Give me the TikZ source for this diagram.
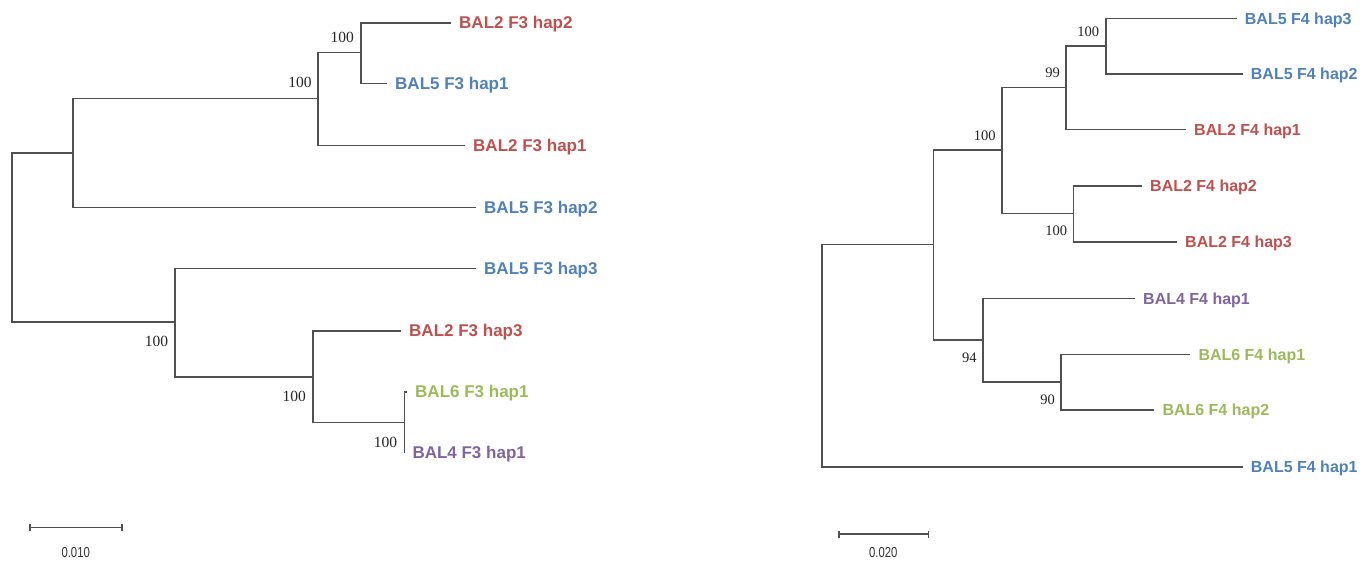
\documentclass[tikz,border=0pt]{standalone}
\usepackage{fontspec}
\setmainfont{Liberation Sans}
\newfontfamily\bootfont{Liberation Serif}
\newfontfamily\barfont[FakeStretch=0.78]{Liberation Sans}
\usetikzlibrary{calc,arrows.meta}
\definecolor{hapred}{RGB}{192,80,77}
\definecolor{hapblue}{RGB}{79,129,189}
\definecolor{hapgreen}{RGB}{155,187,89}
\definecolor{happurple}{RGB}{128,100,162}
\definecolor{branchgray}{RGB}{80,80,80}
\begin{document}
\begin{tikzpicture}[x=1pt,y=-1pt,
  branch/.style={draw=branchgray,line width=1.6pt},
  leafL/.style={anchor=west,inner xsep=8pt,inner ysep=0pt,text height=12.2pt,text depth=0pt,
    font=\fontsize{17}{17}\selectfont\bfseries},
  leafR/.style={leafL,text height=11.4pt,font=\fontsize{16}{16}\selectfont\bfseries},
  bootL/.style={anchor=east,inner sep=0pt,text=black!85,font=\bootfont\fontsize{15.5}{15.5}\selectfont},
  bootR/.style={bootL,font=\bootfont\fontsize{14.5}{14.5}\selectfont},
  scalebar/.style={draw=branchgray,line width=1.4pt,{Bar[width=7pt,line width=1.4pt]}-{Bar[width=7pt,line width=1.4pt]}},
  scalelabel/.style={inner sep=0pt,text=black!80,font=\barfont\fontsize{14.5}{14.5}\selectfont}
]
\useasboundingbox (0,0) rectangle (1369,560);
\fill[white] (0,0) rectangle (1369,560);

% ---------- F3 tree ----------
\coordinate (r1) at (11.7,237.2);
\coordinate (nA) at (72.7,152.7);
\coordinate (nB) at (318,98.3);
\coordinate (nC) at (360.7,52.3);
\coordinate (nD) at (175,321.7);
\coordinate (nE) at (312.7,376.7);
\coordinate (nF) at (404.3,422.3);

\node[leafL,text=hapred]    (lA) at (451,22.7)    {BAL2 F3 hap2};
\node[leafL,text=hapblue]   (lB) at (387,83.3)    {BAL5 F3 hap1};
\node[leafL,text=hapred]    (lC) at (465,145.3)   {BAL2 F3 hap1};
\node[leafL,text=hapblue]   (lD) at (476,207.3)   {BAL5 F3 hap2};
\node[leafL,text=hapblue]   (lE) at (476,268.5)   {BAL5 F3 hap3};
\node[leafL,text=hapred]    (lF) at (401,330.7)   {BAL2 F3 hap3};
\node[leafL,text=hapgreen]  (lG) at (407,391.7)   {BAL6 F3 hap1};
\node[leafL,text=happurple] (lH) at (404.3,452.7) {BAL4 F3 hap1};

\path[branch]
  (r1) |- (nA)  (r1) |- (nD)
  (nA) |- (nB)  (nA) |- (lD.west)
  (nB) |- (nC)  (nB) |- (lC.west)
  (nC) |- (lA.west)  (nC) |- (lB.west)
  (nD) |- (lE.west)  (nD) |- (nE)
  (nE) |- (lF.west)  (nE) |- (nF)
  (nF) |- (lG.west)  (nF) |- (lH.west);

\node[bootL] (bB) at ($(nB)+(-6.3,-15.6)$) {100};
\node[bootL] (bC) at ($(nC)+(-6.7,-15)$)   {100};
\node[bootL] (bD) at ($(nD)+(-6.7,20)$)    {100};
\node[bootL] (bE) at ($(nE)+(-6.7,19.3)$)  {100};
\node[bootL] (bF) at ($(nF)+(-7,20)$)      {100};

\coordinate (sL1) at (29.3,527.3);
\coordinate (sL2) at (122.7,527.3);
\draw[scalebar] (sL1) -- (sL2);
\node[scalelabel] (sLt) at (75.7,552.7) {0.010};

% ---------- F4 tree ----------
\coordinate (r2) at (821.7,355.5);
\coordinate (nG) at (933.3,244.3);
\coordinate (nH) at (1001.7,150);
\coordinate (nI) at (1065.7,87.3);
\coordinate (nK) at (1105.7,46.2);
\coordinate (nJ) at (1073.3,213.3);
\coordinate (nL) at (982.7,340);
\coordinate (nM) at (1060.7,381.7);

\node[leafR,text=hapblue]   (rA) at (1236.7,18.3) {BAL5 F4 hap3};
\node[leafR,text=hapblue]   (rB) at (1242.7,74)   {BAL5 F4 hap2};
\node[leafR,text=hapred]    (rC) at (1186,129.3)  {BAL2 F4 hap1};
\node[leafR,text=hapred]    (rD) at (1142,186)    {BAL2 F4 hap2};
\node[leafR,text=hapred]    (rE) at (1177,241.7)  {BAL2 F4 hap3};
\node[leafR,text=happurple] (rF) at (1135,298.3)  {BAL4 F4 hap1};
\node[leafR,text=hapgreen]  (rG) at (1190.3,354.3) {BAL6 F4 hap1};
\node[leafR,text=hapgreen]  (rH) at (1154.3,410)  {BAL6 F4 hap2};
\node[leafR,text=hapblue]   (rI) at (1242.7,466.7) {BAL5 F4 hap1};

\path[branch]
  (r2) |- (nG)  (r2) |- (rI.west)
  (nG) |- (nH)  (nG) |- (nL)
  (nH) |- (nI)  (nH) |- (nJ)
  (nI) |- (nK)  (nI) |- (rC.west)
  (nK) |- (rA.west)  (nK) |- (rB.west)
  (nJ) |- (rD.west)  (nJ) |- (rE.west)
  (nL) |- (rF.west)  (nL) |- (nM)
  (nM) |- (rG.west)  (nM) |- (rH.west);

\node[bootR] (bK) at ($(nK)+(-6.4,-14.5)$) {100};
\node[bootR] (bI) at ($(nI)+(-5.7,-14.6)$) {99};
\node[bootR] (bH) at ($(nH)+(-6,-14)$)     {100};
\node[bootR] (bJ) at ($(nJ)+(-6,17.4)$)    {100};
\node[bootR] (bL) at ($(nL)+(-6,17.3)$)    {94};
\node[bootR] (bM) at ($(nM)+(-5.7,17.6)$)  {90};

\coordinate (sR1) at (838.3,534);
\coordinate (sR2) at (929.3,534);
\draw[scalebar] (sR1) -- (sR2);
\node[scalelabel] (sRt) at (883.3,552.5) {0.020};
\end{tikzpicture}
\end{document}
